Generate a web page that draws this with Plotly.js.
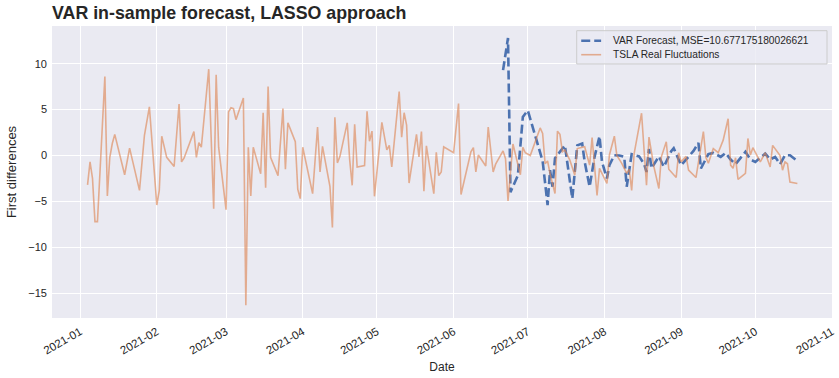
<!DOCTYPE html>
<html>
<head>
<meta charset="utf-8">
<script src="https://cdn.plot.ly/plotly-3.0.1.min.js"></script>
<style>html,body{margin:0;padding:0;background:#fff;}#chart{width:839px;height:378px;}</style>
</head>
<body>
<div id="chart"></div>
<script>
// TSLA real fluctuations (first differences)
const realDates = [
"2021-01-04","2021-01-05","2021-01-06","2021-01-07","2021-01-08","2021-01-11","2021-01-12","2021-01-13","2021-01-14","2021-01-15",
"2021-01-19","2021-01-21","2021-01-25","2021-01-27","2021-01-29","2021-02-01","2021-02-02","2021-02-03","2021-02-05","2021-02-08",
"2021-02-10","2021-02-11","2021-02-12","2021-02-14","2021-02-16","2021-02-17","2021-02-18","2021-02-19","2021-02-22","2021-02-24",
"2021-02-25","2021-02-26","2021-03-01","2021-03-02","2021-03-03","2021-03-04","2021-03-05","2021-03-08","2021-03-09","2021-03-10",
"2021-03-11","2021-03-12","2021-03-15","2021-03-16","2021-03-17","2021-03-18","2021-03-19","2021-03-22","2021-03-24","2021-03-25",
"2021-03-26","2021-03-29","2021-03-30","2021-03-31","2021-04-01","2021-04-05","2021-04-07","2021-04-08","2021-04-09","2021-04-12",
"2021-04-13","2021-04-14","2021-04-15","2021-04-16","2021-04-19","2021-04-20","2021-04-21","2021-04-22","2021-04-23","2021-04-26",
"2021-04-27","2021-04-28","2021-04-29","2021-04-30","2021-05-03","2021-05-05","2021-05-06","2021-05-07","2021-05-10","2021-05-11",
"2021-05-12","2021-05-13","2021-05-14","2021-05-17","2021-05-18","2021-05-19","2021-05-20","2021-05-21","2021-05-24","2021-05-25",
"2021-05-26","2021-05-27","2021-05-28","2021-06-01","2021-06-03","2021-06-04","2021-06-08","2021-06-09","2021-06-10","2021-06-11",
"2021-06-14","2021-06-15","2021-06-17","2021-06-18","2021-06-21","2021-06-22","2021-06-23","2021-06-25","2021-06-28","2021-06-29",
"2021-06-30","2021-07-02","2021-07-06","2021-07-07","2021-07-08","2021-07-09","2021-07-10","2021-07-12","2021-07-13","2021-07-14",
"2021-07-15","2021-07-16","2021-07-18","2021-07-20","2021-07-21","2021-07-24","2021-07-26","2021-07-27","2021-07-29","2021-07-30",
"2021-08-02","2021-08-03","2021-08-05","2021-08-06","2021-08-08","2021-08-10","2021-08-11","2021-08-12","2021-08-13","2021-08-16",
"2021-08-18","2021-08-19","2021-08-21","2021-08-23","2021-08-24","2021-08-26","2021-08-27","2021-08-30","2021-08-31","2021-09-01",
"2021-09-03","2021-09-04","2021-09-07","2021-09-10","2021-09-11","2021-09-12","2021-09-14","2021-09-16","2021-09-18","2021-09-20",
"2021-09-21","2021-09-22","2021-09-23","2021-09-24","2021-09-27","2021-09-28","2021-09-29","2021-09-30","2021-10-03","2021-10-05",
"2021-10-07","2021-10-08","2021-10-11","2021-10-12","2021-10-13","2021-10-14","2021-10-15","2021-10-18"
];
const realValues = [
-3.2,-0.7,-2.5,-7.2,-7.2,8.6,-4.4,-0.2,1.3,2.3,
-2.1,0.8,-3.8,2.2,5.3,-5.4,-3.8,2.1,-0.2,-1.2,
5.6,-0.7,-0.3,1.1,2.6,-0.2,1.4,0.9,9.4,-5.8,
8.8,0.9,-5.9,4.75,5.2,5.1,3.9,6.25,-16.3,0.9,
-4.4,0.9,-2.0,4.65,-3.5,7.5,-0.2,-2.2,5.1,-1.5,
3.55,1.5,-3.7,-4.7,0.9,-4.15,3.1,-1.8,1.0,-3.35,
-7.85,4.15,-0.8,-0.15,3.55,-0.5,-3.25,3.4,-1.25,-1.1,
4.8,1.55,2.65,-4.45,3.6,0.6,1.1,-1.25,6.95,2.0,
4.65,3.3,-3.0,2.3,-0.15,2.6,-3.9,1.05,-4.15,0.35,
-2.2,-1.8,0.95,0.3,5.65,-4.25,0.4,0.85,-1.8,0.05,
-1.15,3.1,-1.8,-0.95,0.5,-0.35,-4.95,1.25,-2.1,0.9,
0.3,0.0,3.0,2.4,-0.9,-0.6,-2.0,-4.15,2.65,2.3,
0.4,0.6,-0.5,-2.15,0.75,0.95,-1.05,1.95,-4.35,-1.4,
-3.05,0.05,2.1,0.0,-0.85,-1.95,-1.5,-3.8,0.2,4.6,
-3.25,2.0,-1.25,-3.6,-0.15,1.5,-1.5,-2.4,0.3,-0.7,
-0.1,-1.6,-2.4,2.6,-0.2,-0.85,0.75,0.3,1.67,4.0,
-1.05,-1.4,-0.25,-2.6,-1.95,1.85,0.05,0.85,-0.7,0.3,
-1.25,1.1,0.0,-1.6,-0.7,-0.9,-2.9,-3.05
];
// VAR forecast
const varDates = [
"2021-06-21","2021-06-22","2021-06-23","2021-06-24","2021-06-27","2021-06-29","2021-07-01","2021-07-07","2021-07-09","2021-07-10",
"2021-07-11","2021-07-12","2021-07-14","2021-07-16","2021-07-19","2021-07-20","2021-07-21","2021-07-23","2021-07-24","2021-07-26",
"2021-07-28","2021-07-30","2021-07-31","2021-08-02","2021-08-03","2021-08-05","2021-08-07","2021-08-09","2021-08-10","2021-08-12",
"2021-08-15","2021-08-17","2021-08-18","2021-08-19","2021-08-20","2021-08-23","2021-08-25","2021-08-28","2021-08-29","2021-09-01",
"2021-09-06","2021-09-08","2021-09-09","2021-09-12","2021-09-14","2021-09-17","2021-09-19","2021-09-21","2021-09-23","2021-09-27",
"2021-09-29","2021-10-01","2021-10-05","2021-10-07","2021-10-09","2021-10-11","2021-10-13","2021-10-15","2021-10-18"
];
const varValues = [
9.3,11.3,12.8,-4.0,-2.15,4.2,4.9,-0.6,-5.4,-1.6,
-3.4,-0.3,0.4,1.1,-4.7,-1.6,1.1,1.3,-0.7,-3.4,
-0.15,2.1,-0.7,-2.5,-1.05,0.03,0.0,-0.15,-3.4,0.14,
-0.1,-0.9,-1.8,0.7,-1.4,-0.1,-1.24,0.47,0.8,-1.06,
0.5,1.37,-1.42,0.14,0.28,-0.15,0.28,-0.44,-0.95,0.4,
-0.44,-0.7,0.2,-0.44,-0.15,-0.95,0.03,0.03,-0.6
];
const mseLabel = "VAR Forecast, MSE=10.677175180026621";
const realLabel = "TSLA Real Fluctuations";
const titleText = "VAR in-sample forecast, LASSO approach";

const blue = '#4C72B0', orange = '#DD8452';
const traces = [
  {x: varDates, y: varValues, type: 'scatter', mode: 'lines', name: mseLabel,
   line: {color: blue, width: 2.6, dash: '9px,4px'}},
  {x: realDates, y: realValues, type: 'scatter', mode: 'lines', name: realLabel,
   line: {color: orange, width: 1.6}, opacity: 0.62}
];
const font = "Liberation Sans, Arial, sans-serif";
const ink = '#262626';
// custom legend (box, samples, labels) in plot-area paper coordinates
const lg = {x0: 0.6727, x1: 0.9936, y0: 0.870, y1: 0.984, sx0: 0.6785, sx1: 0.7040, tx: 0.7167, r1: 0.9497, r2: 0.9017};
const shapes = [
  {type: 'rect', xref: 'paper', yref: 'paper', x0: lg.x0, x1: lg.x1, y0: lg.y0, y1: lg.y1,
   fillcolor: 'rgba(234,234,242,0.8)', line: {color: '#cccccc', width: 1}, layer: 'above'},
  {type: 'line', xref: 'paper', yref: 'paper', x0: lg.sx0, x1: lg.sx1, y0: lg.r1, y1: lg.r1,
   line: {color: blue, width: 2.6, dash: '9px,4px'}, layer: 'above'},
  {type: 'line', xref: 'paper', yref: 'paper', x0: lg.sx0, x1: lg.sx1, y0: lg.r2, y1: lg.r2,
   line: {color: orange, width: 1.6}, opacity: 0.62, layer: 'above'}
];
const annotations = [
  {xref: 'paper', yref: 'paper', x: lg.tx, y: lg.r1, xanchor: 'left', yanchor: 'middle', showarrow: false,
   text: mseLabel, font: {family: font, size: 10.2, color: ink}},
  {xref: 'paper', yref: 'paper', x: lg.tx, y: lg.r2, xanchor: 'left', yanchor: 'middle', showarrow: false,
   text: realLabel, font: {family: font, size: 10.2, color: ink}}
];
const layout = {
  width: 839, height: 378,
  margin: {l: 52, r: 7, t: 26, b: 60},
  paper_bgcolor: '#ffffff', plot_bgcolor: '#EAEAF2',
  font: {family: font, size: 11, color: ink},
  title: {text: '<b>' + titleText + '</b>', xref: 'paper', x: 0, xanchor: 'left',
          yref: 'container', y: 0.965, yanchor: 'middle',
          font: {family: font, size: 17.8, color: ink}},
  showlegend: false,
  shapes: shapes,
  annotations: annotations,
  xaxis: {type: 'date', range: ['2020-12-20 15:00', '2021-11-01 00:00'], dtick: 'M1', tick0: '2021-01-01',
          tickformat: '%Y-%m', tickangle: -30, showgrid: true, gridcolor: '#ffffff', gridwidth: 1,
          zeroline: false, showline: false, ticks: '', tickfont: {size: 11.5}, ticklabelstandoff: 4,
          title: {text: 'Date', font: {size: 12}, standoff: 7}},
  yaxis: {range: [-17.7, 14.1], dtick: 5, tick0: 0, showgrid: true, gridcolor: '#ffffff', gridwidth: 1,
          zeroline: false, showline: false, ticks: '', tickfont: {size: 11}, ticklabelstandoff: 4,
          title: {text: 'First differences', font: {size: 13}, standoff: 8}}
};
Plotly.newPlot('chart', traces, layout, {displayModeBar: false, staticPlot: true});
</script>
</body>
</html>
